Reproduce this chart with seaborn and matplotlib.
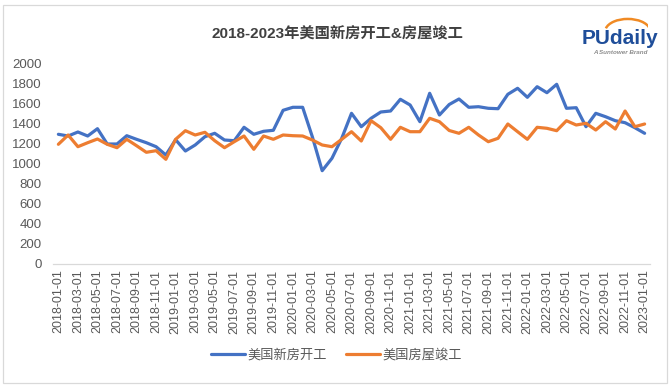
import numpy as np
import pandas as pd
import matplotlib.pyplot as plt
import seaborn as sns
from matplotlib.patches import Rectangle, Arc

# ---------------- data ----------------
dates = pd.date_range('2018-01-01', '2023-01-01', freq='MS').strftime('%Y-%m-%d').tolist()

starts = [1297, 1280, 1320, 1280, 1353, 1200, 1200, 1283, 1247, 1213,
          1173, 1090, 1243, 1130, 1190, 1273, 1307, 1240, 1233, 1367,
          1297, 1327, 1337, 1537, 1567, 1567, 1270, 933, 1057, 1257,
          1507, 1373, 1457, 1520, 1530, 1647, 1590, 1423, 1707, 1490,
          1595, 1650, 1567, 1573, 1557, 1553, 1697, 1757, 1667, 1773,
          1713, 1797, 1557, 1563, 1373, 1507, 1473, 1433, 1413, 1363,
          1307]

completions = [1197, 1290, 1173, 1213, 1250, 1197, 1163, 1247, 1183, 1117,
               1133, 1047, 1247, 1333, 1290, 1317, 1233, 1163, 1223, 1280,
               1147, 1280, 1247, 1290, 1283, 1280, 1240, 1190, 1173, 1247,
               1323, 1230, 1433, 1363, 1247, 1367, 1323, 1323, 1457, 1423,
               1335, 1307, 1367, 1290, 1223, 1257, 1400, 1323, 1247, 1367,
               1357, 1333, 1433, 1390, 1407, 1340, 1423, 1350, 1530, 1373,
               1400]

series_names = ['美国新房开工', '美国房屋竣工']
title = '2018-2023年美国新房开工&房屋竣工'
yticks = [0, 200, 400, 600, 800, 1000, 1200, 1400, 1600, 1800, 2000]

df = pd.DataFrame({'date': dates, series_names[0]: starts, series_names[1]: completions})
df['idx'] = range(len(df))
long_df = df.melt(id_vars=['date', 'idx'], var_name='series', value_name='value')

# ---------------- plot ----------------
sns.set_theme(style='white')
plt.rcParams['font.family'] = ['Liberation Sans', 'Noto Sans CJK SC', 'DejaVu Sans']

fig = plt.figure(figsize=(6.7, 3.87), dpi=100)
ax = fig.add_axes([53/670, 1-264/387, (650-53)/670, (264-64)/387])

palette = {series_names[0]: '#4472C4', series_names[1]: '#ED7D31'}
sns.lineplot(data=long_df, x='idx', y='value', hue='series', palette=palette,
             linewidth=2.3, ax=ax, legend=True)

ax.set_xlim(-0.55, len(dates)-0.45)
ax.set_ylim(0, 2000)
ax.set_yticks(yticks)
ax.set_xticks(df['idx'][::2])
ax.set_xticklabels(df['date'][::2], rotation=90)
ax.tick_params(axis='both', labelsize=9, labelcolor='#595959', length=0, pad=4)
ax.tick_params(axis='y', labelsize=9.5, pad=8)
ax.set_xlabel('')
ax.set_ylabel('')
for s in ['top', 'right', 'left']:
    ax.spines[s].set_visible(False)
ax.spines['bottom'].set_color('#D9D9D9')
ax.spines['bottom'].set_linewidth(0.9)
ax.grid(False)

leg = ax.legend(loc='center', bbox_to_anchor=(0.502, 1-355/387), bbox_transform=fig.transFigure,
                ncol=2, frameon=False, fontsize=9.5, handlelength=2.6, columnspacing=1.4,
                handletextpad=0.2)
for t in leg.get_texts():
    t.set_color('#595959')

fig.text(337/670, 1-33/387, title, ha='center', va='center', fontsize=11,
         fontweight='bold', color='#404040')

# logo
fig.text(620/670, 1-38/387, 'PUdaily', ha='center', va='center', fontsize=15,
         fontweight='bold', color='#1F4E9A', family=['Liberation Sans'])
fig.text(620/670, 1-52/387, 'A Suntower Brand', ha='center', va='center', fontsize=4.5,
         fontweight='bold', style='italic', color='#8C8C8C', family=['Liberation Sans'])
logo_ax = fig.add_axes([603/670, 1-30/387, 45/670, 13/387])
logo_ax.axis('off')
logo_ax.set_xlim(0, 1)
logo_ax.set_ylim(0, 1)
logo_ax.add_patch(Arc((0.55, -0.1), 1.0, 1.9, theta1=25, theta2=155, color='#F08A24', lw=1.8))

fig.patches.append(Rectangle((3/670, 4/387), 664/670, 378/387, transform=fig.transFigure,
                             fill=False, edgecolor='#D9D9D9', linewidth=0.9))

plt.savefig('out.png', dpi=100)
